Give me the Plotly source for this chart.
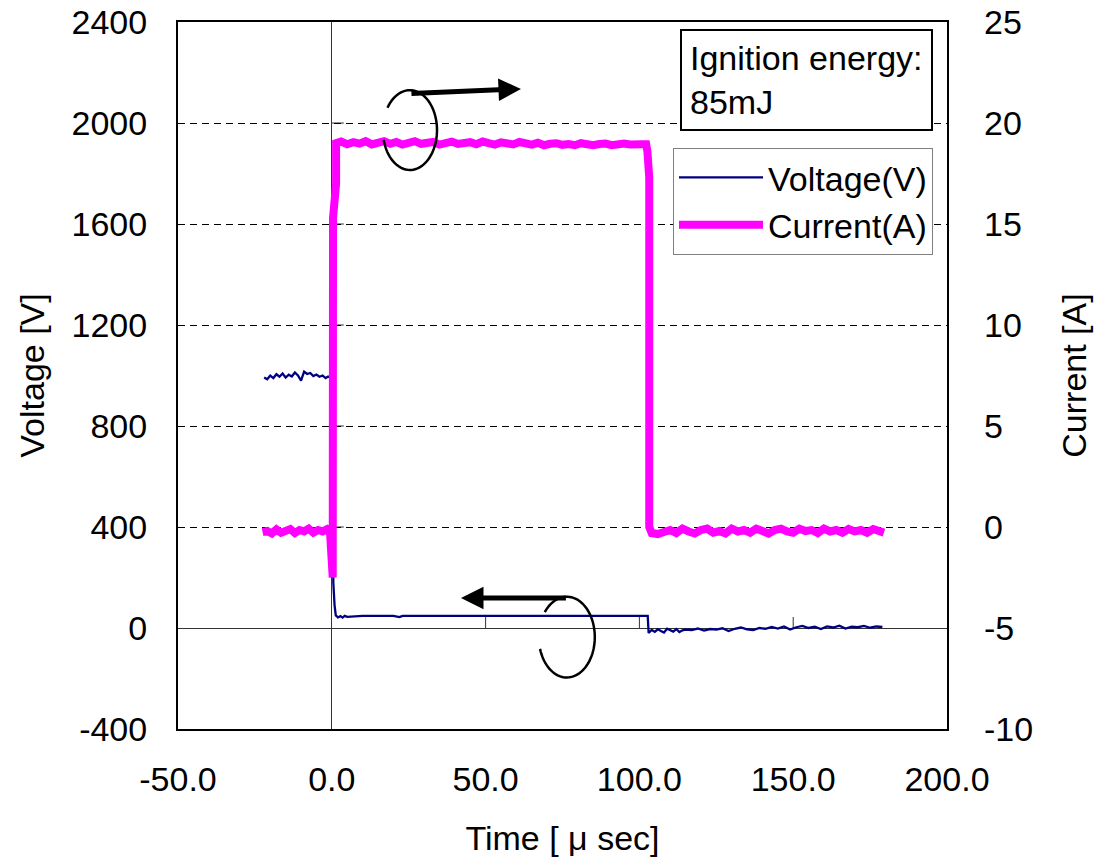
import numpy as np
import plotly.graph_objects as go

# ---------------- data ----------------
# Voltage (V) -- pre-trigger segment
volt_t_pre = [-22, -21, -20, -19, -18, -17, -16, -15, -14, -13, -12, -11,
              -10, -9, -8, -7, -6, -5, -4, -3, -2, -1.3]
volt_v_pre = [992, 985, 1000, 990, 1005, 995, 1008, 992, 1003, 996, 1012, 1000,
              980, 1015, 1006, 1010, 998, 1004, 995, 1000, 990, 995]
# Voltage -- breakdown and sustained discharge
volt_t_arc = [0.0, 0.3, 0.5, 0.9, 1.3, 2.0, 2.8, 3.5, 4.2, 5.0, 10, 20, 22, 23, 30,
              50, 70, 90, 102.7]
volt_v_arc = [995, 600, 178, 90, 50, 42, 47, 41, 48, 44, 48, 48, 43, 48, 48,
              48, 48, 48, 48]
# Voltage -- after the discharge
volt_t_post = [103, 104, 105, 106, 107, 108, 109, 110, 111, 112, 113, 114, 115,
               117, 119, 121, 123, 125, 127, 129, 131, 133, 135, 137, 139, 141,
               143, 145, 147, 149, 151, 153, 155, 157, 159, 161, 163, 165, 167,
               169, 171, 173, 175, 177, 179]
volt_v_post = [-20, -8, -15, -5, -12, -18, -3, -10, -14, -4, -16, -9, -6,
               -8, -2, -10, -4, -6, -1, -12, -3, 2, -5, -8, 0, -3,
               4, -2, 6, -6, 3, 8, 0, 5, -4, 6, 2, 9, -2,
               5, 3, 8, 1, 6, 4]

# Current (A) -- pre-trigger
curr_t_pre = [-22.5, -21, -19.5, -18, -16.5, -15, -13.5, -12, -10.5, -9, -7.5,
              -6, -4.5, -3, -1.5, -0.6]
curr_a_pre = [-0.25, -0.2, -0.32, -0.12, -0.28, -0.2, -0.1, -0.3, -0.15, -0.22,
              -0.08, -0.28, -0.15, -0.22, -0.1, -0.18]
# Current -- rise
curr_t_rise = [0.2, 0.3, 0.4, 1.4, 1.4]
curr_a_rise = [-2.5, -2.5, 15.3, 17.0, 19.0]
# Current -- plateau
curr_t_plat = [3, 5, 7, 9, 11, 13, 15, 17, 19, 21, 23, 25, 27, 29, 31, 33, 35,
               37, 39, 41, 43, 45, 47, 49, 51, 53, 55, 57, 59, 61, 63, 65, 67,
               69, 71, 73, 75, 77, 79, 81, 83, 85, 87, 89, 91, 93, 95, 97, 99,
               101, 102.2]
curr_a_plat = [19.08, 18.95, 19.05, 18.98, 19.1, 18.94, 19.02, 19.1, 18.97, 19.06,
               18.93, 19.02, 19.1, 18.97, 19.02, 19.06, 18.93, 19.0, 19.08, 18.96,
               19.0, 19.05, 18.95, 19.08, 19.0, 18.93, 19.04, 18.98, 18.94, 19.06,
               18.98, 18.93, 19.02, 18.9, 18.97, 19.0, 18.92, 18.96, 18.9, 19.0,
               18.95, 18.9, 18.96, 18.98, 18.9, 18.95, 18.98, 18.94, 18.9, 18.95,
               18.95]
# Current -- fall
curr_t_fall = [102.6, 103.2, 103.2]
curr_a_fall = [18.6, 17.3, 0.0]
# Current -- after the discharge
curr_t_post = [104, 106, 108, 110, 112, 114, 116, 118, 120, 122, 124, 126, 128,
               130, 132, 134, 136, 138, 140, 142, 144, 146, 148, 150, 152, 154,
               156, 158, 160, 162, 164, 166, 168, 170, 172, 174, 176, 178, 179.5]
curr_a_post = [-0.3, -0.35, -0.25, -0.15, -0.3, -0.08, -0.22, -0.32, -0.15, -0.08,
               -0.28, -0.2, -0.32, -0.08, -0.22, -0.15, -0.28, -0.08, -0.2, -0.32,
               -0.15, -0.08, -0.22, -0.28, -0.08, -0.2, -0.15, -0.3, -0.08, -0.22,
               -0.15, -0.28, -0.1, -0.22, -0.15, -0.28, -0.1, -0.22, -0.28]

# axis ticks
x_ticks = [-50, 0, 50, 100, 150, 200]
x_ticktext = ["-50.0", "0.0", "50.0", "100.0", "150.0", "200.0"]
v_ticks = [-400, 0, 400, 800, 1200, 1600, 2000, 2400]
v_ticktext = ["-400", "0", "400", "800", "1200", "1600", "2000", "2400"]
a_ticks = [-10, -5, 0, 5, 10, 15, 20, 25]
a_ticktext = ["-10", "-5", "0", "5", "10", "15", "20", "25"]

series_names = ["Voltage(V)", "Current(A)"]
box_text = "Ignition energy:<br>85mJ"

# ---------------- figure ----------------
FONT = "Arial, Liberation Sans, sans-serif"
FS = 34
volt_t = volt_t_pre + volt_t_arc + volt_t_post
volt_v = volt_v_pre + volt_v_arc + volt_v_post
curr_t = curr_t_pre + curr_t_rise + curr_t_plat + curr_t_fall + curr_t_post
curr_a = curr_a_pre + curr_a_rise + curr_a_plat + curr_a_fall + curr_a_post

fig = go.Figure()
fig.add_trace(go.Scatter(x=volt_t, y=volt_v, mode="lines", name=series_names[0],
                         line=dict(color="#000080", width=2.3), yaxis="y"))
fig.add_trace(go.Scatter(x=curr_t, y=curr_a, mode="lines", name=series_names[1],
                         line=dict(color="#FF00FF", width=8), yaxis="y2"))

# tick marks on the crossing axes (at V=0 and t=0)
shapes = []
for xt in x_ticks:
    if xt in (0, x_ticks[0], x_ticks[-1]):
        continue
    shapes.append(dict(type="line", xref="x", yref="y", ysizemode="pixel",
                       yanchor=0, y0=0, y1=11, x0=xt, x1=xt,
                       line=dict(color="#333333", width=1), layer="below"))
for vt in v_ticks:
    if vt in (0, v_ticks[0], v_ticks[-1]):
        continue
    shapes.append(dict(type="line", xref="x", yref="y", xsizemode="pixel",
                       xanchor=0, x0=0, x1=12, y0=vt, y1=vt,
                       line=dict(color="#333333", width=1), layer="below"))


def ellipse_path(cx, cy, rx, ry, a0, a1):
    th = np.radians(np.linspace(a0, a1, 80))
    xs = cx + rx * np.cos(th)
    ys = cy - ry * np.sin(th)
    return "M " + " L ".join(f"{x:.3f},{y:.3f}" for x, y in zip(xs, ys))


shapes.append(dict(type="path", xref="x", yref="y",
                   path=ellipse_path(25.4, 1972, 8.8, 158, 214, 526),
                   line=dict(color="black", width=2.5)))
shapes.append(dict(type="path", xref="x", yref="y",
                   path=ellipse_path(76.4, -36, 9.1, 160, 218, 523),
                   line=dict(color="black", width=2.5)))

annotations = [
    dict(x=61.5, y=2135, ax=25.4, ay=2117, xref="x", yref="y", axref="x", ayref="y",
         text="", showarrow=True, arrowhead=2, arrowwidth=5, arrowsize=0.9,
         arrowcolor="black"),
    dict(x=42.0, y=119, ax=76.6, ay=119, xref="x", yref="y", axref="x", ayref="y",
         text="", showarrow=True, arrowhead=2, arrowwidth=5, arrowsize=0.9,
         arrowcolor="black"),
    dict(x=0.653, y=0.99, xref="paper", yref="paper", xanchor="left", yanchor="top",
         text=box_text, showarrow=False, align="left",
         font=dict(family=FONT, size=FS, color="black"),
         bordercolor="black", borderwidth=2, borderpad=8, bgcolor="white"),
]

fig.update_layout(
    width=1097, height=863,
    margin=dict(l=178, r=150, t=22, b=134, autoexpand=False),
    paper_bgcolor="white", plot_bgcolor="white",
    font=dict(family=FONT, size=FS, color="black"),
    showlegend=True,
    legend=dict(x=0.6437, y=0.822, xanchor="left", yanchor="top",
                bgcolor="white", bordercolor="#808080", borderwidth=1,
                font=dict(family=FONT, size=FS, color="black"),
                itemwidth=84, tracegroupgap=0),
    xaxis=dict(range=[-50, 200], tickvals=x_ticks, ticktext=x_ticktext,
               automargin=False,
               showgrid=False, zeroline=True, zerolinecolor="#333333", zerolinewidth=1,
               showline=True, linecolor="black", linewidth=2, mirror=True,
               ticks="", ticklabelstandoff=19,
               title=dict(text="Time [ μ sec]", standoff=29,
                          font=dict(family=FONT, size=FS))),
    yaxis=dict(range=[-400, 2400], tickvals=v_ticks, ticktext=v_ticktext,
               automargin=False,
               showgrid=True, gridcolor="black", gridwidth=1, griddash="7px,5px",
               zeroline=True, zerolinecolor="#333333", zerolinewidth=1,
               showline=True, linecolor="black", linewidth=2, mirror=True,
               ticks="", ticklabelstandoff=22,
               title=dict(text="Voltage [V]", standoff=17,
                          font=dict(family=FONT, size=FS))),
    yaxis2=dict(range=[-10, 25], tickvals=a_ticks, ticktext=a_ticktext,
                automargin=False,
                overlaying="y", side="right", showgrid=False, zeroline=False,
                showline=False, ticks="", ticklabelstandoff=36,
                title=dict(text="Current [A]", standoff=30,
                           font=dict(family=FONT, size=FS))),
    shapes=shapes,
    annotations=annotations,
)

fig.write_html("out.html",
               config={"displayModeBar": False},
               post_script="document.body.style.margin='0';"
                           "document.body.style.overflow='hidden';")
